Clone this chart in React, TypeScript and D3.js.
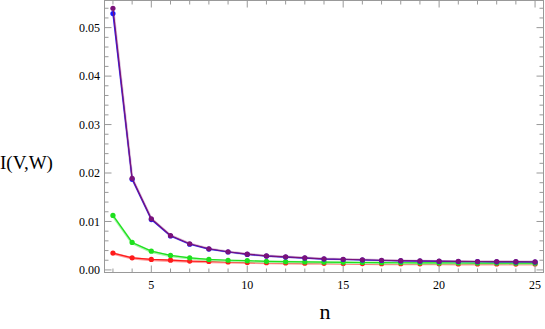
import React from 'react';
import * as d3 from 'd3';

// n values and series
const nValues = d3.range(3, 26);
const purple = [0.0540, 0.0189, 0.01055, 0.0071, 0.0054, 0.00437, 0.00375, 0.00326, 0.0029, 0.0027, 0.0025, 0.0023, 0.0022, 0.0021, 0.0020, 0.0019, 0.00185, 0.0018, 0.00177, 0.00174, 0.00172, 0.0017, 0.00168];
const blue = [0.0529, 0.0187, 0.0104, 0.0070, 0.0053, 0.0043, 0.0037, 0.0032, 0.00285, 0.00265, 0.00245, 0.00225, 0.00215, 0.00205, 0.00195, 0.00185, 0.0018, 0.00175, 0.00172, 0.0017, 0.00168, 0.00166, 0.00164];
const green = [0.01124, 0.00567, 0.00388, 0.0030, 0.0025, 0.00216, 0.0020, 0.0019, 0.00178, 0.0017, 0.00165, 0.0016, 0.00156, 0.00153, 0.0015, 0.00148, 0.00146, 0.00144, 0.00143, 0.00142, 0.00141, 0.0014, 0.0014];
const lightGreen = [0.01115, 0.00555, 0.00375, 0.00288, 0.0024, 0.00206, 0.0019, 0.0018, 0.0017, 0.00163, 0.00158, 0.00153, 0.0015, 0.00147, 0.00145, 0.00143, 0.00141, 0.0014, 0.00139, 0.00138, 0.00137, 0.00136, 0.00136];
const red = [0.00347, 0.0025, 0.00216, 0.00202, 0.00182, 0.00175, 0.00165, 0.00155, 0.0015, 0.00145, 0.0014, 0.00137, 0.00134, 0.00132, 0.0013, 0.00128, 0.00126, 0.00125, 0.00124, 0.00123, 0.00122, 0.00121, 0.0012];
const pink = [0.0034, 0.0024, 0.00206, 0.00192, 0.00174, 0.00167, 0.00158, 0.00149, 0.00144, 0.0014, 0.00135, 0.00132, 0.0013, 0.00128, 0.00126, 0.00124, 0.00122, 0.00121, 0.0012, 0.00119, 0.00118, 0.00117, 0.00117];

const xMajor = [5, 10, 15, 20, 25];
const yMajor = [0, 0.01, 0.02, 0.03, 0.04, 0.05];

const width = 545;
const height = 329;
const frame = { left: 104.5, right: 543.5, top: 0.5, bottom: 272.5 };

export default function App() {
  const x = d3.scaleLinear().domain([2.56, 25.44]).range([frame.left, frame.right]);
  const y = d3.scaleLinear().domain([-0.00053, 0.0556]).range([frame.bottom, frame.top]);

  const line = d3.line<number>().x((_, i) => x(nValues[i])).y(d => y(d));

  const xMinor = d3.range(3, 26).filter(v => v % 5 !== 0);
  const yMinor = d3.range(0, 0.0556, 0.002).filter(v => Math.abs(v / 0.01 - Math.round(v / 0.01)) > 1e-6);

  const series = [
    { data: pink, color: '#ff9a9a', w: 2.6, dots: false },
    { data: red, color: '#ff1a1a', w: 1.2, dots: true },
    { data: lightGreen, color: '#a8f5a8', w: 2.6, dots: false },
    { data: green, color: '#1ee01e', w: 1.2, dots: true },
    { data: blue, color: '#1a1aff', w: 1.2, dots: true },
    { data: purple, color: '#7a127a', w: 1.2, dots: true },
  ];

  const tickColor = '#999';
  const font = '"Liberation Serif", "DejaVu Serif", serif';

  return (
    <svg width={width} height={height} style={{ position: 'absolute', left: 0, top: 0 }} fontFamily={font}>
      <rect x={0} y={0} width={width} height={height} fill="#fff" />
      {/* purple light band in the tail */}
      <path d={line(purple) || ''} fill="none" stroke="#c9a0c9" strokeWidth={2.6} opacity={0.7} />
      {series.map((s, k) => (
        <g key={k}>
          <path d={line(s.data) || ''} fill="none" stroke={s.color} strokeWidth={s.w} />
          {s.dots && s.data.map((d, i) => (
            <circle key={i} cx={x(nValues[i])} cy={y(d)} r={2.6} fill={s.color} />
          ))}
        </g>
      ))}

      {/* frame */}
      <rect x={frame.left} y={frame.top} width={frame.right - frame.left} height={frame.bottom - frame.top}
        fill="none" stroke={tickColor} strokeWidth={1} />

      {/* x ticks */}
      {xMajor.map(v => (
        <g key={'xm' + v}>
          <line x1={x(v)} x2={x(v)} y1={frame.bottom} y2={frame.bottom - 7} stroke={tickColor} />
          <line x1={x(v)} x2={x(v)} y1={frame.top} y2={frame.top + 7} stroke={tickColor} />
          <text x={x(v)} y={289} textAnchor="middle" fontSize={12}>{v}</text>
        </g>
      ))}
      {xMinor.map(v => (
        <g key={'xn' + v}>
          <line x1={x(v)} x2={x(v)} y1={frame.bottom} y2={frame.bottom - 4} stroke={tickColor} />
          <line x1={x(v)} x2={x(v)} y1={frame.top} y2={frame.top + 4} stroke={tickColor} />
        </g>
      ))}

      {/* y ticks */}
      {yMajor.map(v => (
        <g key={'ym' + v}>
          <line x1={frame.left} x2={frame.left + 7} y1={y(v)} y2={y(v)} stroke={tickColor} />
          <line x1={frame.right} x2={frame.right - 7} y1={y(v)} y2={y(v)} stroke={tickColor} />
          <text x={100} y={y(v) + 4.2} textAnchor="end" fontSize={12}>{d3.format('.2f')(v)}</text>
        </g>
      ))}
      {yMinor.map(v => (
        <g key={'yn' + v}>
          <line x1={frame.left} x2={frame.left + 4} y1={y(v)} y2={y(v)} stroke={tickColor} />
          <line x1={frame.right} x2={frame.right - 4} y1={y(v)} y2={y(v)} stroke={tickColor} />
        </g>
      ))}

      <text x={0} y={169} fontSize={19}>I(V,W)</text>
      <text x={325} y={319} fontSize={22} textAnchor="middle">n</text>
    </svg>
  );
}
